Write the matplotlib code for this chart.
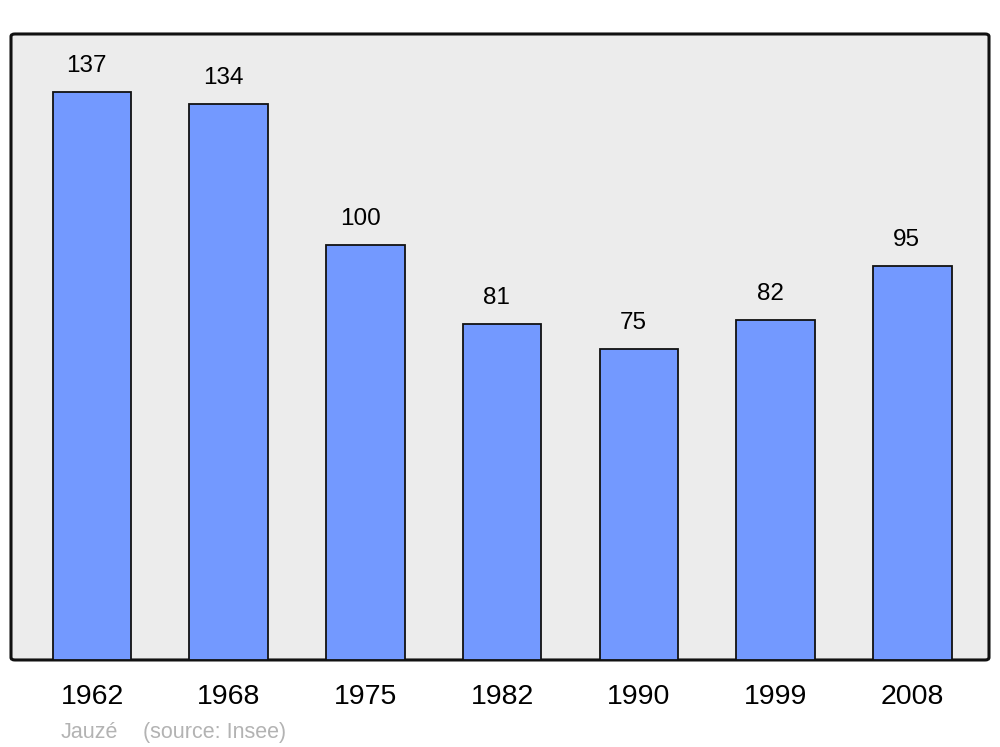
import matplotlib
matplotlib.use("Agg")
import matplotlib.pyplot as plt
from matplotlib.patches import FancyBboxPatch

annees = ["1962", "1968", "1975", "1982", "1990", "1999", "2008"]
population = [137, 134, 100, 81, 75, 82, 95]

plt.rcParams['font.family'] = ['Liberation Sans', 'DejaVu Sans']

fig = plt.figure(figsize=(10, 7.47), dpi=100)
ax = fig.add_axes([0.011, 0.1165, 0.978, 0.838])
ax.set_facecolor('none')

# fond arrondi du cadre
cadre = FancyBboxPatch((0, 0), 1, 1, boxstyle="round,pad=0,rounding_size=0.004",
                       transform=ax.transAxes, facecolor='#ececec', edgecolor='#111111',
                       linewidth=2.2, clip_on=False, zorder=0)
ax.add_patch(cadre)

x = range(len(annees))
ax.bar(x, population, width=0.575, color='#7399ff', edgecolor='#111111',
       linewidth=1.3, zorder=2)

for i, v in enumerate(population):
    ax.text(i - 0.04, v + 6.3, str(v), ha='center', va='center', fontsize=17.5, color='black')

ax.set_xlim(-0.593, 6.561)
ax.set_ylim(0, 151)
for s in ax.spines.values():
    s.set_visible(False)
ax.set_yticks([])
ax.set_xticks(list(x))
ax.set_xticklabels(annees, fontsize=20.5)
ax.tick_params(axis='x', length=0, pad=17.5)

fig.text(0.061, 0.020, "Jauzé", color='#b3b3b3', fontsize=15.5, ha='left', va='center')
fig.text(0.143, 0.020, "(source: Insee)", color='#b3b3b3', fontsize=15.5, ha='left', va='center')

fig.savefig("out.png", dpi=100)
